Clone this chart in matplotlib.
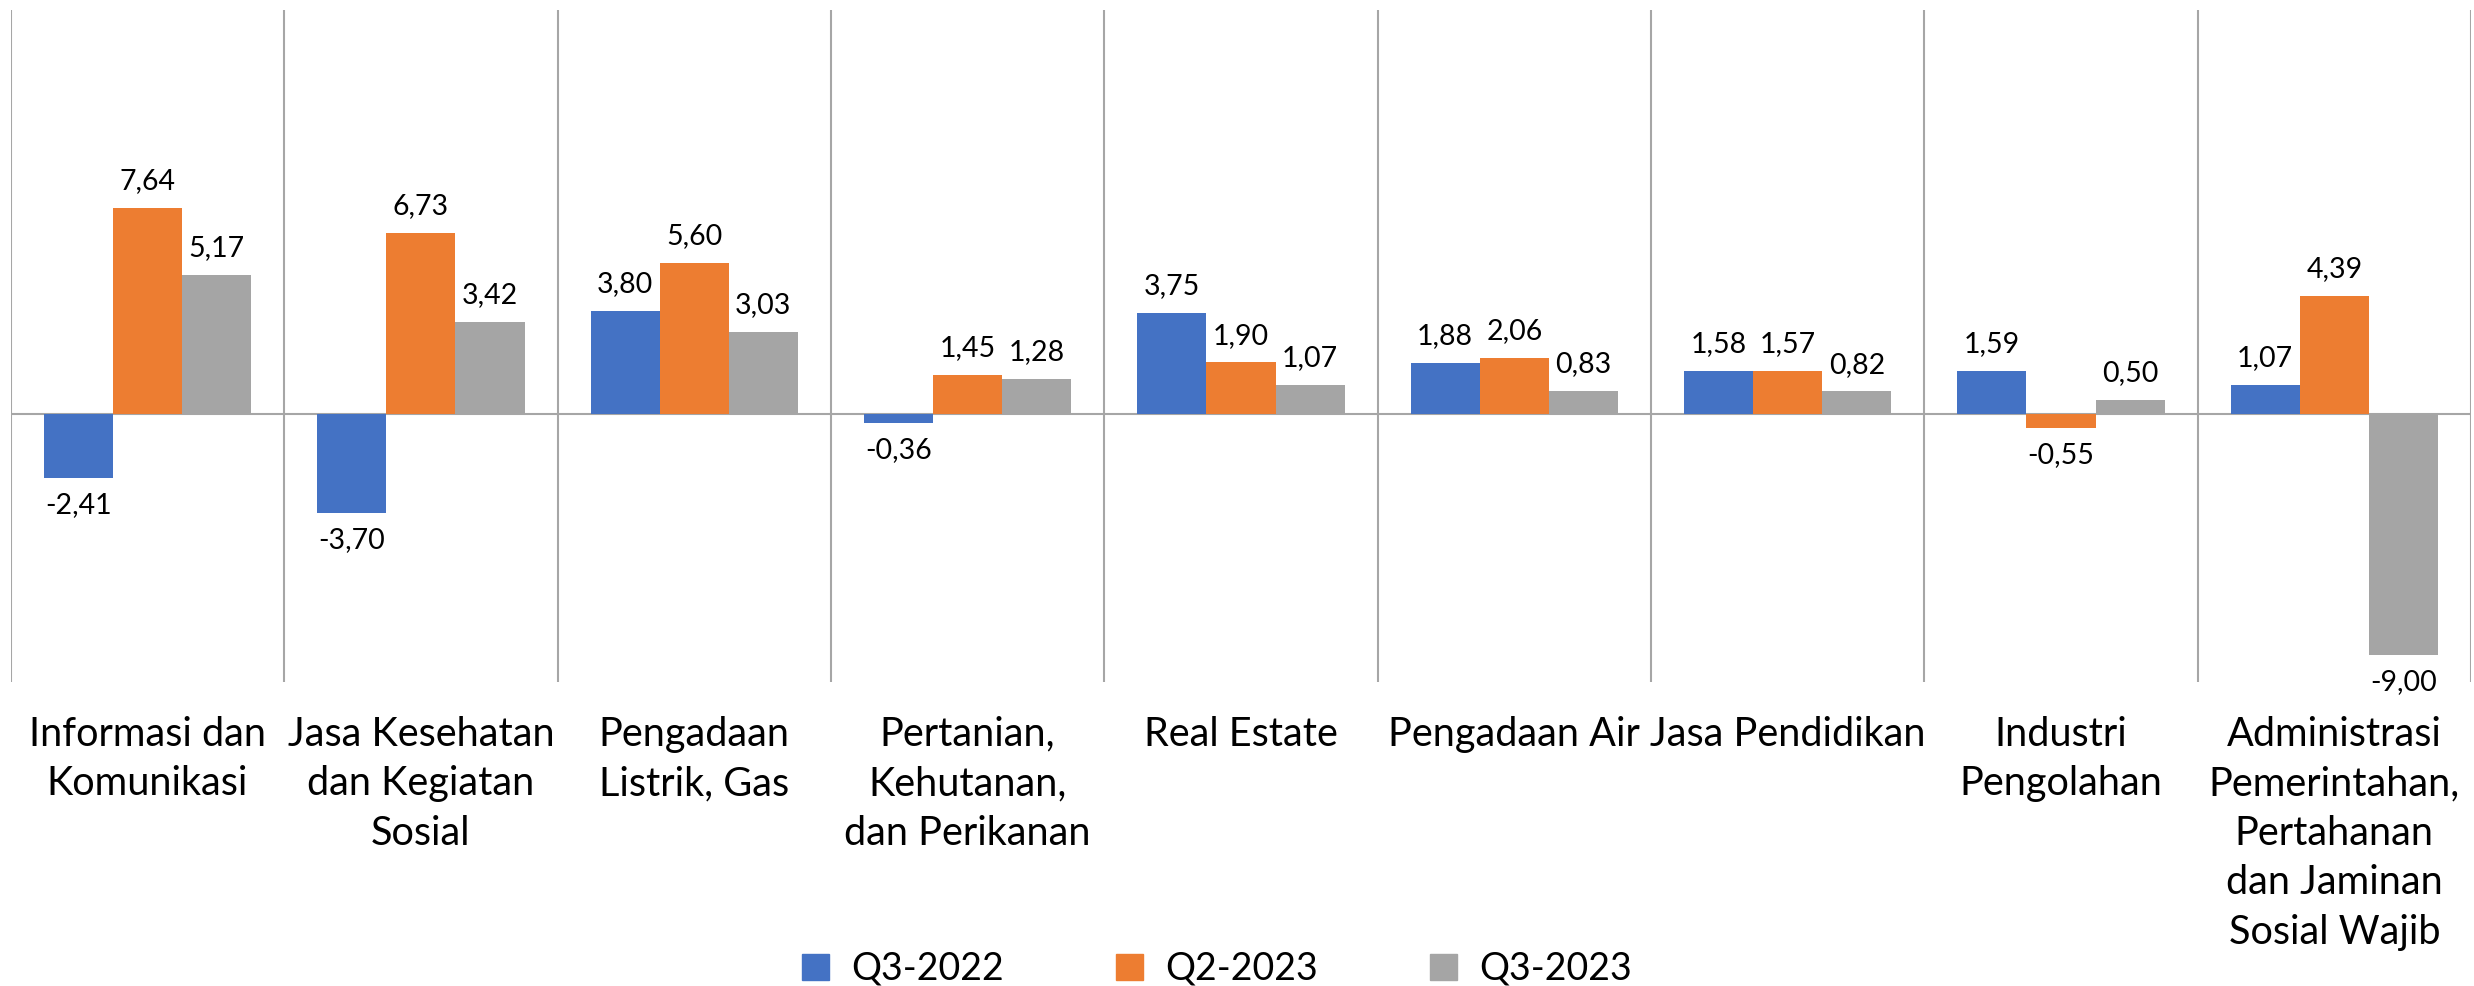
import numpy as np
import matplotlib
matplotlib.use('Agg')
import matplotlib.pyplot as plt
from matplotlib.patches import Patch

plt.rcParams['font.family'] = ['Lato', 'DejaVu Sans']

# Data
categories = [
    'Informasi dan\nKomunikasi',
    'Jasa Kesehatan\ndan Kegiatan\nSosial',
    'Pengadaan\nListrik, Gas',
    'Pertanian,\nKehutanan,\ndan Perikanan',
    'Real Estate',
    'Pengadaan Air',
    'Jasa Pendidikan',
    'Industri\nPengolahan',
    'Administrasi\nPemerintahan,\nPertahanan\ndan Jaminan\nSosial Wajib',
]
series_names = ['Q3-2022', 'Q2-2023', 'Q3-2023']
q3_2022 = [-2.41, -3.70, 3.80, -0.36, 3.75, 1.88, 1.58, 1.59, 1.07]
q2_2023 = [7.64, 6.73, 5.60, 1.45, 1.90, 2.06, 1.57, -0.55, 4.39]
q3_2023 = [5.17, 3.42, 3.03, 1.28, 1.07, 0.83, 0.82, 0.50, -9.00]
colors = ['#4472C4', '#ED7D31', '#A5A5A5']

fig = plt.figure(figsize=(24.74, 9.86), dpi=100)
ax = fig.add_axes([0.0044, 0.308, 0.9944, 0.6815])

x = np.arange(len(categories))
w = 0.253
for k, vals in enumerate([q3_2022, q2_2023, q3_2023]):
    pos = x + (k - 1) * w
    ax.bar(pos, vals, width=w, color=colors[k], zorder=3)
    for xp, v in zip(pos, vals):
        lbl = f'{v:.2f}'.replace('.', ',')
        if v >= 0:
            ax.annotate(lbl, (xp, v), xytext=(0, 10), textcoords='offset points',
                        ha='center', va='bottom', fontsize=20.5)
        else:
            ax.annotate(lbl, (xp, v), xytext=(0, -10), textcoords='offset points',
                        ha='center', va='top', fontsize=20.5)

ax.set_xlim(-0.5, len(categories) - 0.5)
ax.set_ylim(-10, 15)
ax.axhline(0, color='#A6A6A6', lw=1.5, zorder=2)
for b in np.arange(len(categories) + 1) - 0.5:
    ax.axvline(b, color='#A6A6A6', lw=1.5, zorder=1)

ax.set_xticks(x)
ax.set_xticklabels(categories, fontsize=28.5, linespacing=1.42)
ax.tick_params(axis='x', length=0, pad=24)
ax.set_yticks([])
for s in ax.spines.values():
    s.set_visible(False)

handles = [Patch(color=c, label=n) for c, n in zip(colors, series_names)]
fig.legend(handles=handles, loc='lower center', bbox_to_anchor=(0.492, -0.035), ncol=3,
           frameon=False, fontsize=27, handlelength=0.7, handleheight=0.7,
           columnspacing=3.0, handletextpad=0.6)

fig.savefig('out.png', dpi=100)
